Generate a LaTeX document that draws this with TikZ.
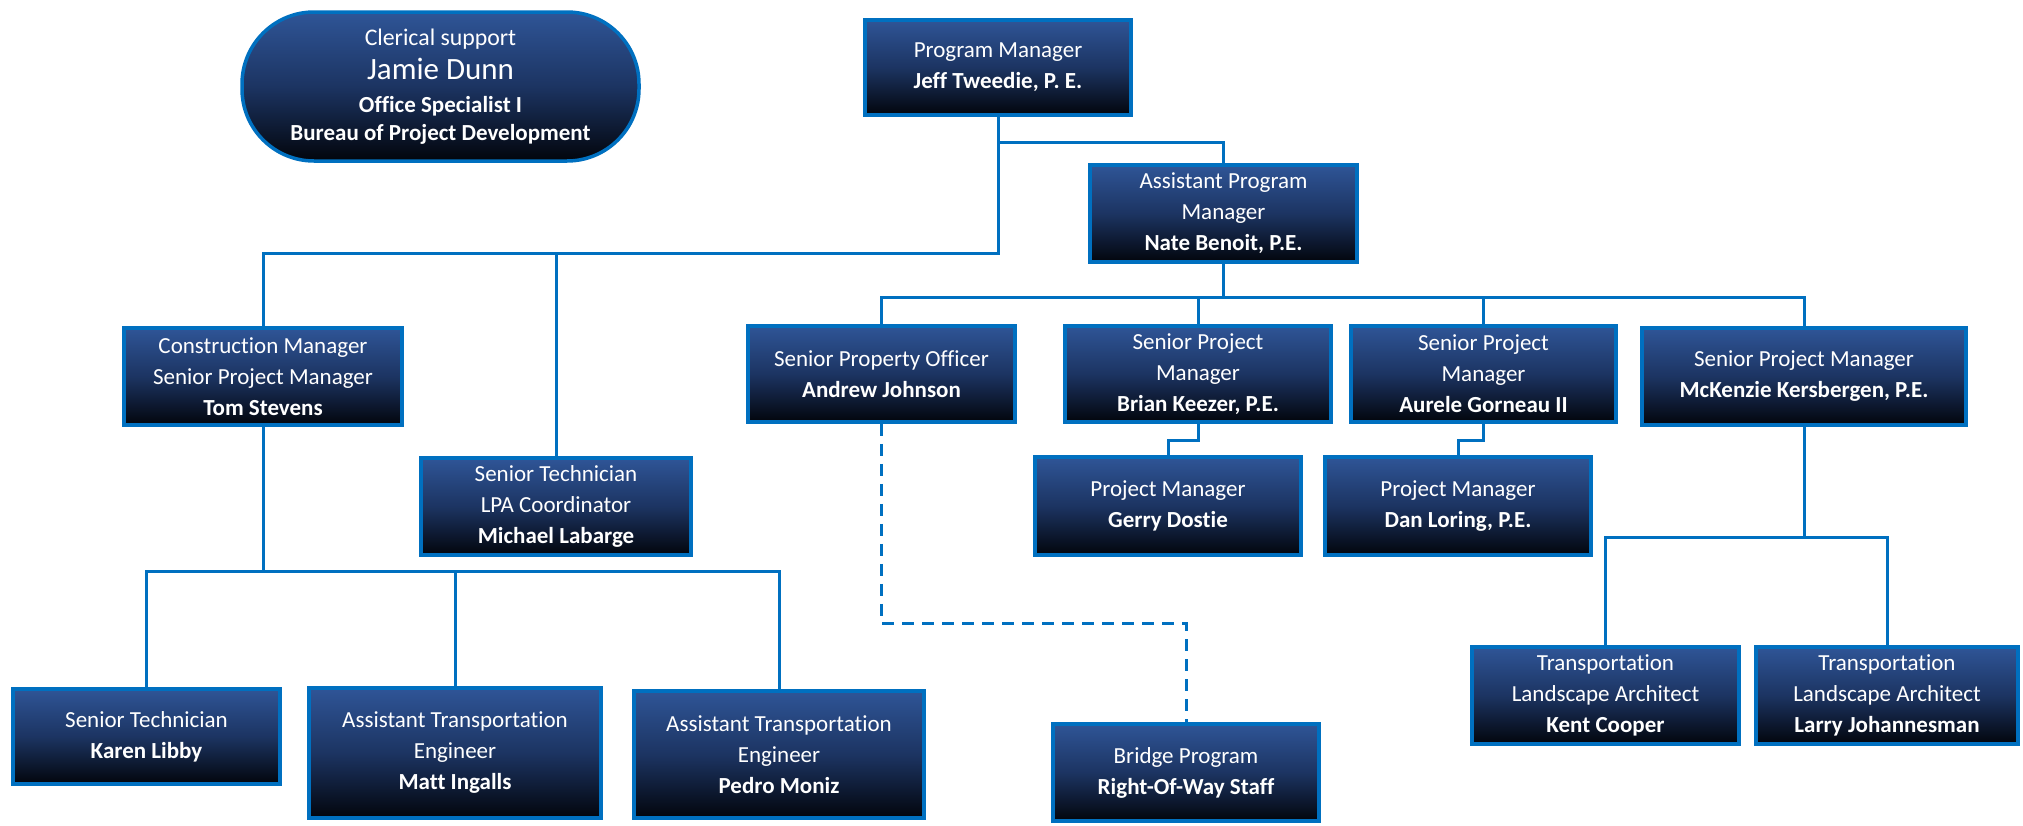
\documentclass[tikz,border=0pt]{standalone}
\usepackage{fontspec}
\setmainfont{Carlito}[RawFeature=-liga]
\definecolor{lineblue}{RGB}{0,112,192}
\definecolor{boxtop}{RGB}{47,85,151}
\definecolor{boxmid}{RGB}{28,52,98}
\definecolor{boxbot}{RGB}{2,5,12}
\newcommand\fs{\fontsize{11.5}{15.5}\selectfont}
\tikzset{
  ob/.style={draw=lineblue, line width=1.75pt, top color=boxtop, bottom color=boxbot, middle color=boxmid,
    text=white, align=center, inner sep=0pt, font=\fs},
  conn/.style={draw=lineblue, line width=1.5pt},
  dashconn/.style={conn, dash pattern=on 6pt off 4pt},
}
\newcommand\obox[7][]{%
  \pgfmathsetmacro\bw{(#5-#3-4)*0.5}%
  \pgfmathsetmacro\bh{(#6-#4-4)*0.5}%
  \pgfmathsetmacro\bx{(#3+#5)/2}%
  \pgfmathsetmacro\by{(#4+#6)/2}%
  \node[ob,#1,minimum width=\bw pt,minimum height=\bh pt] (#2) at (\bx,\by) {#7};}
\begin{document}
\begin{tikzpicture}[x=0.5pt,y=-0.5pt]
\useasboundingbox (0,0) rectangle (2023,825);
% clerical
\obox[rounded corners=36pt]{cler}{240}{10}{641}{163}{{\fontsize{11.9}{15}\selectfont Clerical support}\\[1.6pt]{\fontsize{15.5}{17}\selectfont Jamie Dunn}\\[1pt]\textbf{Office Specialist I}\\[-1.8pt]\textbf{Bureau of Project Development}}
% boxes
\obox{pm}{863}{18}{1133}{117}{Program Manager\\\textbf{Jeff Tweedie, P. E.}}
\obox{apm}{1088}{163}{1359}{264}{Assistant Program\\Manager\\\textbf{Nate Benoit, P.E.}}
\obox{cm}{122}{326}{404}{427}{Construction Manager\\Senior Project Manager\\\textbf{Tom Stevens}}
\obox{stlpa}{419}{456}{693}{557}{Senior Technician\\LPA Coordinator\\\textbf{Michael Labarge}}
\obox{spo}{746}{324}{1017}{424}{Senior Property Officer\\\textbf{Andrew Johnson}}
\obox{brian}{1063}{324}{1333}{424}{Senior Project\\Manager\\\textbf{Brian Keezer, P.E.}}
\obox{aurele}{1349}{324}{1618}{424}{Senior Project\\Manager\\\textbf{Aurele Gorneau II}}
\obox{mck}{1640}{326}{1968}{427}{Senior Project Manager\\\textbf{McKenzie Kersbergen, P.E.}}
\obox{gerry}{1033}{455}{1303}{557}{Project Manager\\\textbf{Gerry Dostie}}
\obox{dan}{1323}{455}{1593}{557}{Project Manager\\\textbf{Dan Loring, P.E.}}
\obox{karen}{11}{687}{282}{786}{Senior Technician\\\textbf{Karen Libby}}
\obox{matt}{307}{686}{603}{820}{Assistant Transportation\\Engineer\\\textbf{Matt Ingalls}}
\obox{pedro}{632}{689}{926}{820}{Assistant Transportation\\Engineer\\\textbf{Pedro Moniz}}
\obox{bridge}{1051}{722}{1321}{823}{Bridge Program\\\textbf{Right-Of-Way Staff}}
\obox{kent}{1470}{645}{1741}{746}{Transportation\\Landscape Architect\\\textbf{Kent Cooper}}
\obox{larry}{1754}{645}{2020}{746}{Transportation\\Landscape Architect\\\textbf{Larry Johannesman}}
% bus levels
\coordinate (busA) at (0,142);
\coordinate (busB) at (0,253);
\coordinate (busC) at (0,297);
\coordinate (busF) at (0,440);
\coordinate (busE) at (0,537);
\coordinate (busD) at (0,571);
\coordinate (busG) at (0,623);
% connectors
\draw[conn] (pm.south) -- (pm.south |- busA) -| (apm.north);
\draw[conn] (pm.south |- busA) -- (pm.south |- busB) -| (cm.north);
\draw[conn] (stlpa.north) -- (stlpa.north |- busB);
\draw[conn] (apm.south) -- (apm.south |- busC);
\draw[conn] (spo.north) -- (spo.north |- busC) -| (mck.north);
\draw[conn] (brian.north) -- (brian.north |- busC);
\draw[conn] (aurele.north) -- (aurele.north |- busC);
\draw[conn] (brian.south) -- (brian.south |- busF) -| (gerry.north);
\draw[conn] (aurele.south) -- (aurele.south |- busF) -| (dan.north);
\draw[conn] (cm.south) -- (cm.south |- busD);
\draw[conn] (karen.north) -- (karen.north |- busD) -| (pedro.north);
\draw[conn] (matt.north) -- (matt.north |- busD);
\draw[conn] (mck.south) -- (mck.south |- busE);
\draw[conn] (kent.north) -- (kent.north |- busE) -| (larry.north);
\draw[dashconn] (spo.south) -- (spo.south |- busG) -| (bridge.north);
\end{tikzpicture}
\end{document}
